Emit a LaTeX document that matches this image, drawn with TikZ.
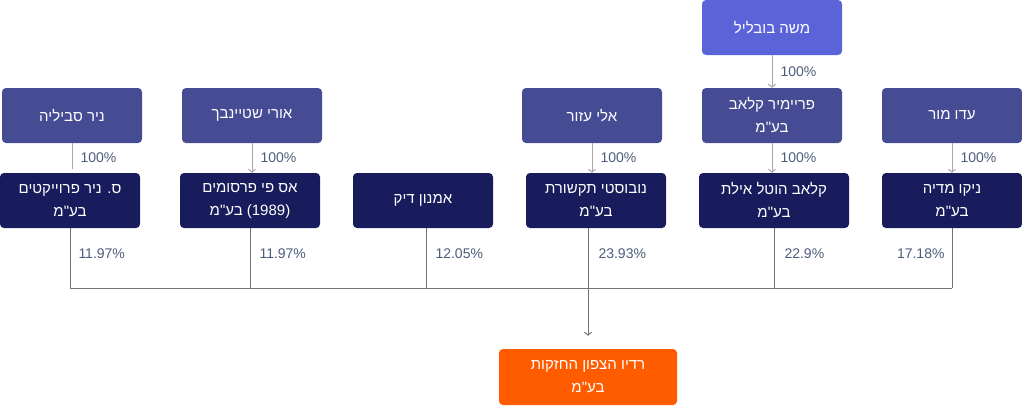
\documentclass[tikz,border=0pt]{standalone}
\usepackage{fontspec}
\setmainfont{Liberation Sans}
\newfontfamily\hebfont[Script=Hebrew]{Liberation Sans}
\TeXXeTstate=1
\usepackage{xcolor}
\usetikzlibrary{arrows.meta}

\definecolor{ownerlight}{HTML}{5B63D9}
\definecolor{ownermid}{HTML}{454C94}
\definecolor{company}{HTML}{181C5C}
\definecolor{radio}{HTML}{FF5C00}
\definecolor{share}{HTML}{4D5B7C}
\definecolor{linklight}{HTML}{A8A8A8}
\definecolor{linkdark}{HTML}{747474}

\newcommand{\hebline}[1]{\beginR #1\endR}

\begin{document}
\begin{tikzpicture}[x=1pt, y=-1pt,
		box/.style={rounded corners=4pt, minimum width=140pt, minimum height=55pt, inner sep=0pt, text=white, align=center, font=\hebfont\fontsize{15}{23}\selectfont},
		own/.style={box, fill=ownerlight},
		holder/.style={box, fill=ownermid},
		firm/.style={box, fill=company},
		target/.style={box, fill=radio, minimum width=178pt, minimum height=56pt},
		link/.style={draw=linklight, line width=1pt, -{Straight Barb[length=3pt, width=7pt]}},
		bus/.style={draw=linkdark, line width=1pt},
		pct/.style={text=share, font=\fontsize{14}{16}\selectfont, inner sep=0pt}]
		
		\useasboundingbox (0,0) rectangle (1022,405);
		
		%top owner
		\node [own] (bubilil) at (772,27.5) {\hebline{משה בובליל}};
		
		%owners
		\node [holder] (savilia) at (72,115.5) {\hebline{ניר סביליה}};
		\node [holder] (steinbach) at (252,115.5) {\hebline{אורי שטיינבך}};
		\node [holder] (azur) at (592,115.5) {\hebline{אלי עזור}};
		\node [holder] (premier) at (772,115.5) {\hebline{פריימיר קלאב}\\\hebline{בע"מ}};
		\node [holder] (mor) at (952,115.5) {\hebline{עדו מור}};
		
		%holding companies
		\node [firm] (nirproj) at (70,200.5) {\hebline{ס. ניר פרוייקטים}\\\hebline{בע"מ}};
		\node [firm] (aspi) at (250,200.5) {\hebline{אס פי פרסומים}\\\hebline{\beginL(1989)\endL{} בע"מ}};
		\node [firm] (dik) at (423,200.5) {\hebline{אמנון דיק}};
		\node [firm] (novosti) at (596,200.5) {\hebline{נובוסטי תקשורת}\\\hebline{בע"מ}};
		\node [firm, minimum width=150pt] (hotel) at (774,200.5) {\hebline{קלאב הוטל אילת}\\\hebline{בע"מ}};
		\node [firm] (niko) at (952,200.5) {\hebline{ניקו מדיה}\\\hebline{בע"מ}};
		
		%radio
		\node [target] (radio) at (588,377) {\hebline{רדיו הצפון החזקות}\\\hebline{בע"מ}};
		
		%full ownership
		\draw [link] (bubilil) -- (premier) node [pct, midway, right=8pt] {100\%};
		\draw [link, -, shorten >=4pt] (savilia.south) -- (savilia.south |- nirproj.north) node [pct, midway, right=8pt] {100\%};
		\draw [link] (steinbach.south) -- (steinbach.south |- aspi.north) node [pct, midway, right=8pt] {100\%};
		\draw [link] (azur.south) -- (azur.south |- novosti.north) node [pct, midway, right=8pt] {100\%};
		\draw [link] (premier.south) -- (premier.south |- hotel.north) node [pct, midway, right=8pt] {100\%};
		\draw [link] (mor.south) -- (mor.south |- niko.north) node [pct, midway, right=8pt] {100\%};
		
		%shares in radio
		\coordinate (jn) at (588,288);
		\draw [bus] (nirproj.south |- jn) -- (niko.south |- jn);
		\draw [bus] (nirproj.south) -- (nirproj.south |- jn) node [pct, pos=0.43, right=8pt] {11.97\%};
		\draw [bus] (aspi.south) -- (aspi.south |- jn) node [pct, pos=0.43, right=9pt] {11.97\%};
		\draw [bus] ([xshift=3pt]dik.south) -- ([xshift=3pt]dik.south |- jn) node [pct, pos=0.43, right=9pt] {12.05\%};
		\draw [bus] (radio.north |- novosti.south) -- (jn) node [pct, pos=0.43, right=10pt] {23.93\%};
		\draw [bus] (hotel.south) -- (hotel.south |- jn) node [pct, pos=0.43, right=10pt] {22.9\%};
		\draw [bus] (niko.south) -- (niko.south |- jn) node [pct, pos=0.43, left=7pt] {17.18\%};
		\draw [bus, -{Straight Barb[length=3pt, width=7pt]}, shorten >=13pt] (jn) -- (radio.north);
	\end{tikzpicture}
\end{document}
